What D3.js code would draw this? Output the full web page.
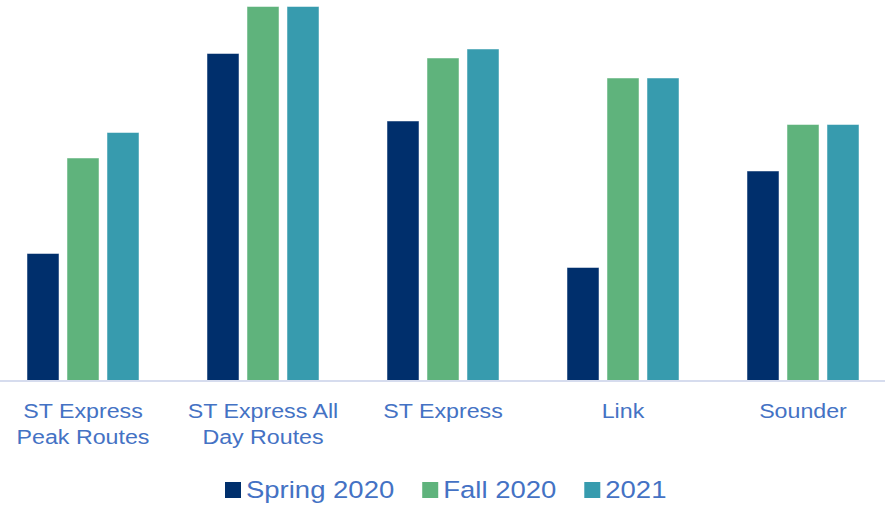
<!DOCTYPE html>
<html>
<head>
<meta charset="utf-8">
<script src="https://cdn.jsdelivr.net/npm/d3@7"></script>
<style>
  body { margin: 0; background: #fff; }
  svg { display: block; }
</style>
</head>
<body>
<svg id="chart" width="885" height="507"></svg>
<script>
// categories (label lines) and series values
const categories = ['ST Express Peak Routes', 'ST Express All Day Routes', 'ST Express', 'Link', 'Sounder'];
const categoryLines = [['ST Express', 'Peak Routes'], ['ST Express All', 'Day Routes'], ['ST Express'], ['Link'], ['Sounder']];
const seriesNames = ['Spring 2020', 'Fall 2020', '2021'];
const spring2020 = [127, 327, 259.5, 113, 209.5];
const fall2020 = [222.5, 374, 322.5, 302.5, 256];
const y2021 = [248, 374, 331.5, 302.5, 256];
const seriesColors = ['#002F6C', '#5FB37C', '#379BAE'];

const svg = d3.select('#chart');
const width = 885, baseline = 380.5;
const stretch = 1.19; // text in the picture is a bit wide

const series = [spring2020, fall2020, y2021];

// x scale for categories, slightly wider than the window like the source
const x = d3.scaleBand().domain(categories).range([-7, 893]).paddingInner(0).paddingOuter(0);
const xs = d3.scaleBand().domain(seriesNames).range([x.bandwidth() / 2 - 56, x.bandwidth() / 2 + 56]).paddingInner(0.2);
const y = d3.scaleLinear().domain([0, 374]).range([baseline, 6.5]);

// bars
const groups = svg.append('g').selectAll('g')
    .data(categories)
    .join('g')
    .attr('transform', d => 'translate(' + x(d) + ',0)');

groups.selectAll('rect')
    .data((c, i) => series.map((s, j) => ({name: seriesNames[j], value: s[i], color: seriesColors[j]})))
    .join('rect')
    .attr('x', d => xs(d.name))
    .attr('width', xs.bandwidth())
    .attr('y', d => y(d.value))
    .attr('height', d => baseline - y(d.value))
    .attr('fill', d => d.color)
    .attr('stroke', 'rgba(255,255,255,0.6)')
    .attr('stroke-width', 0.8);

// baseline
svg.append('line')
    .attr('x1', 0).attr('x2', width)
    .attr('y1', baseline + 0.5).attr('y2', baseline + 0.5)
    .attr('stroke', '#D6DCEE')
    .attr('stroke-width', 2);

// category labels
const labels = svg.append('g').selectAll('g')
    .data(categories)
    .join('g')
    .attr('transform', d => 'translate(' + (x(d) + x.bandwidth() / 2) + ',0)');

labels.selectAll('text')
    .data((c, i) => categoryLines[i])
    .join('text')
    .attr('transform', (d, i) => 'translate(0,' + (417.5 + i * 26.5) + ') scale(' + stretch + ',1)')
    .attr('text-anchor', 'middle')
    .attr('font-family', 'Arial, "Liberation Sans", sans-serif')
    .attr('font-size', '19.5px')
    .attr('fill', '#4472C4')
    .text(d => d);

// legend
const legend = svg.append('g');
let lx = 225;
seriesNames.forEach((name, i) => {
    legend.append('rect')
        .attr('x', lx).attr('y', 482)
        .attr('width', 16).attr('height', 16)
        .attr('fill', seriesColors[i]);
    const t = legend.append('text')
        .attr('transform', 'translate(' + (lx + 21) + ',498.3) scale(1.17,1)')
        .attr('font-family', 'Arial, "Liberation Sans", sans-serif')
        .attr('font-size', '23.5px')
        .attr('fill', '#4472C4')
        .text(name);
    lx += 21 + t.node().getComputedTextLength() * 1.17 + 28;
});
</script>
</body>
</html>
